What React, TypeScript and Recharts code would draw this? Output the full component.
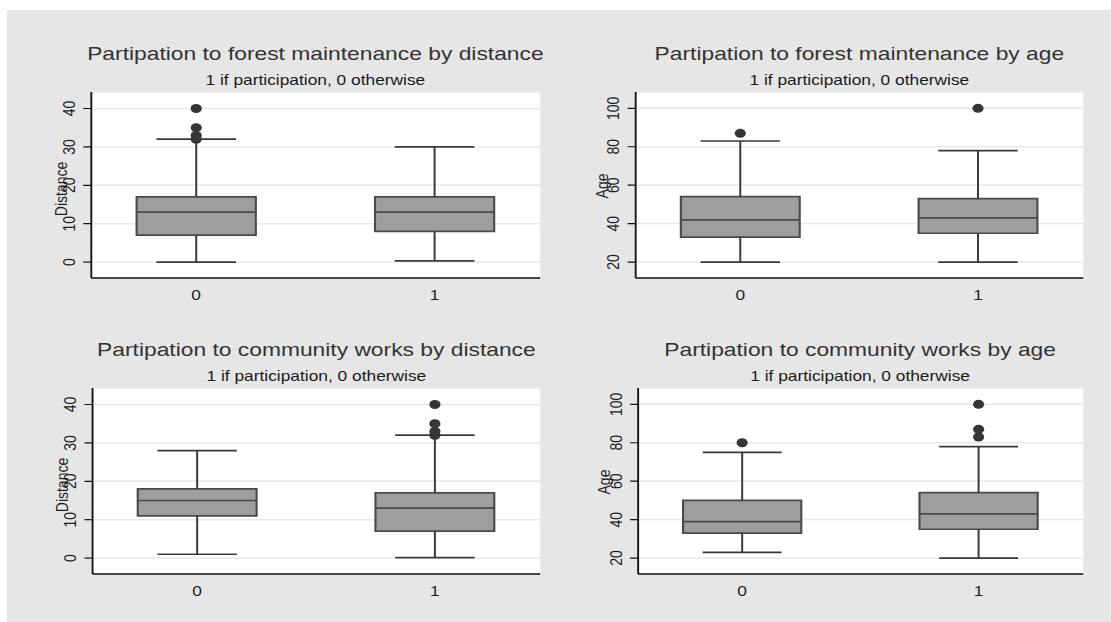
import React from 'react';
import {
  ComposedChart,
  XAxis,
  YAxis,
  CartesianGrid,
  ReferenceArea,
  ReferenceLine,
  Scatter,
} from 'recharts';

// ---------- data ----------
const groupLabels = ['0', '1'];
const groupPositions = [0, 1];
const distanceTicks = [0, 10, 20, 30, 40];
const ageTicks = [20, 40, 60, 80, 100];

// each row: [lower whisker, Q1, median, Q3, upper whisker]
const forestDistanceStats = [
  [0, 7, 13, 17, 32],
  [0.3, 8, 13, 17, 30],
];
const forestDistanceOutliers = [[40, 35, 33, 32], []];

const forestAgeStats = [
  [20, 33, 42, 54, 83],
  [20, 35, 43, 53, 78],
];
const forestAgeOutliers = [[87], [100]];

const communityDistanceStats = [
  [1, 11, 15, 18, 28],
  [0.1, 7, 13, 17, 32],
];
const communityDistanceOutliers = [[], [40, 35, 33, 32]];

const communityAgeStats = [
  [23, 33, 39, 50, 75],
  [20, 35, 43, 54, 78],
];
const communityAgeOutliers = [[80], [100, 87, 83]];

const panelTitles = [
  'Partipation to forest maintenance by distance',
  'Partipation to forest maintenance by age',
  'Partipation to community works by distance',
  'Partipation to community works by age',
];
const subtitleText = '1 if participation, 0 otherwise';
const yTitles = ['Distance', 'Age', 'Distance', 'Age'];

// ---------- layout / style ----------
const SX = 1.24; // horizontal stretch of the whole figure
const FONT = '"Liberation Sans", Arial, Helvetica, sans-serif';
const X_DOMAIN: [number, number] = [-0.44, 1.443];
const DIST_DOMAIN: [number, number] = [-4.15, 44.3];
const AGE_DOMAIN: [number, number] = [11.7, 108.5];
const BOX_HALF = 0.25;
const CAP_HALF = 0.167;
const BOX_FILL = '#9e9e9e';
const BOX_STROKE = '#4a4a4a';
const LINE_STROKE = '#3a3a3a';
const DOT_FILL = '#363636';

type Plot = { x: number; y: number; w: number; h: number };

const plots: Plot[] = [
  { x: 67.7, y: 82, w: 362, h: 186 },
  { x: 506.9, y: 82, w: 361, h: 186 },
  { x: 69, y: 378, w: 361, h: 186 },
  { x: 508.5, y: 378, w: 359, h: 186 },
];
const yTitleOffsets = [19.5, 22.5, 19.5, 22.5];
const yTitleShifts = [4, 1, 4, 1];

const renderYTick = (props: any) => {
  const { x, y, payload } = props;
  return (
    <text
      x={x}
      y={y}
      transform={`rotate(-90, ${x}, ${y})`}
      textAnchor="middle"
      fontSize={14}
      fontFamily={FONT}
      fill="#1e1e1e"
    >
      {payload.value}
    </text>
  );
};

const renderXTick = (props: any) => {
  const { x, y, payload } = props;
  const idx = groupPositions.indexOf(payload.value);
  return (
    <text
      x={x}
      y={y + 22}
      textAnchor="middle"
      fontSize={14}
      fontFamily={FONT}
      fill="#1e1e1e"
    >
      {idx >= 0 ? groupLabels[idx] : ''}
    </text>
  );
};

const dotShape = (props: any) => {
  const { cx, cy } = props;
  if (cx == null || cy == null) return <g />;
  return <circle cx={cx} cy={cy} r={4.5} fill={DOT_FILL} />;
};

function BoxPanel({
  plot,
  stats,
  outliers,
  ticks,
  domain,
}: {
  plot: Plot;
  stats: number[][];
  outliers: number[][];
  ticks: number[];
  domain: [number, number];
}) {
  const margin = { top: 10, right: 10, bottom: 5, left: 10 };
  const W = plot.w + 80;
  const H = plot.h + 45;
  const outlierData = outliers.flatMap((vals, i) =>
    vals.map((v) => ({ x: groupPositions[i], y: v }))
  );
  const elements: React.ReactNode[] = [];
  stats.forEach((s, i) => {
    const c = groupPositions[i];
    const [lo, q1, med, q3, hi] = s;
    elements.push(
      <ReferenceLine
        key={`wl${i}`}
        segment={[{ x: c, y: lo }, { x: c, y: q1 }]}
        stroke={LINE_STROKE}
        strokeWidth={1.6}
      />,
      <ReferenceLine
        key={`wh${i}`}
        segment={[{ x: c, y: q3 }, { x: c, y: hi }]}
        stroke={LINE_STROKE}
        strokeWidth={1.6}
      />,
      <ReferenceLine
        key={`cl${i}`}
        segment={[{ x: c - CAP_HALF, y: lo }, { x: c + CAP_HALF, y: lo }]}
        stroke={LINE_STROKE}
        strokeWidth={1.7}
      />,
      <ReferenceLine
        key={`ch${i}`}
        segment={[{ x: c - CAP_HALF, y: hi }, { x: c + CAP_HALF, y: hi }]}
        stroke={LINE_STROKE}
        strokeWidth={1.7}
      />,
      <ReferenceArea
        key={`b${i}`}
        x1={c - BOX_HALF}
        x2={c + BOX_HALF}
        y1={q1}
        y2={q3}
        fill={BOX_FILL}
        fillOpacity={1}
        stroke={BOX_STROKE}
        strokeWidth={1.7}
      />,
      <ReferenceLine
        key={`m${i}`}
        segment={[{ x: c - BOX_HALF, y: med }, { x: c + BOX_HALF, y: med }]}
        stroke={BOX_STROKE}
        strokeWidth={1.7}
      />
    );
  });

  return (
    <div style={{ position: 'absolute', left: plot.x - 70, top: plot.y - 10 }}>
      <ComposedChart width={W} height={H} margin={margin}>
        <CartesianGrid
          vertical={false}
          horizontal={true}
          stroke="#e8e8e8"
          strokeWidth={1.5}
          fill="#ffffff"
          fillOpacity={1}
        />
        <XAxis
          type="number"
          dataKey="x"
          domain={X_DOMAIN}
          ticks={groupPositions}
          allowDataOverflow
          height={30}
          interval={0}
          tickSize={0}
          tickMargin={0}
          tickLine={false}
          axisLine={{ stroke: '#111111', strokeWidth: 1.6 }}
          tick={renderXTick}
        />
        <YAxis
          type="number"
          dataKey="y"
          domain={domain}
          ticks={ticks}
          allowDataOverflow
          width={60}
          interval={0}
          tickSize={6.5}
          tickMargin={6.8}
          tickLine={{ stroke: '#111111', strokeWidth: 1.2 }}
          axisLine={{ stroke: '#111111', strokeWidth: 1.5 }}
          tick={renderYTick}
        />
        {elements}
        <Scatter
          data={outlierData}
          dataKey="y"
          shape={dotShape}
          isAnimationActive={false}
        />
      </ComposedChart>
    </div>
  );
}

export default function App() {
  const panelStats = [forestDistanceStats, forestAgeStats, communityDistanceStats, communityAgeStats];
  const panelOutliers = [forestDistanceOutliers, forestAgeOutliers, communityDistanceOutliers, communityAgeOutliers];
  const panelTicks = [distanceTicks, ageTicks, distanceTicks, ageTicks];
  const panelDomains = [DIST_DOMAIN, AGE_DOMAIN, DIST_DOMAIN, AGE_DOMAIN];
  const innerW = 1104 / SX;

  return (
    <div
      style={{
        position: 'absolute',
        left: 7,
        top: 10,
        width: innerW,
        height: 612,
        background: '#e6e6e6',
        transform: `scaleX(${SX})`,
        transformOrigin: '0 0',
        fontFamily: FONT,
      }}
    >
      {plots.map((p, i) => (
        <BoxPanel
          key={i}
          plot={p}
          stats={panelStats[i]}
          outliers={panelOutliers[i]}
          ticks={panelTicks[i]}
          domain={panelDomains[i]}
        />
      ))}
      <svg
        width={innerW}
        height={612}
        style={{ position: 'absolute', left: 0, top: 0, pointerEvents: 'none' }}
      >
        {plots.map((p, i) => {
          const cx = p.x + p.w / 2;
          const lx = p.x - yTitleOffsets[i];
          const ly = p.y + p.h / 2 + yTitleShifts[i];
          return (
            <g key={i}>
              <text
                x={cx}
                y={p.y - 32}
                textAnchor="middle"
                fontSize={18.4}
                fontFamily={FONT}
                fill="#333333"
              >
                {panelTitles[i]}
              </text>
              <text
                x={cx}
                y={p.y - 7}
                textAnchor="middle"
                fontSize={14}
                fontFamily={FONT}
                fill="#1a1a1a"
              >
                {subtitleText}
              </text>
              <text
                x={lx}
                y={ly}
                transform={`rotate(-90, ${lx}, ${ly})`}
                textAnchor="middle"
                fontSize={14}
                fontFamily={FONT}
                fill="#1e1e1e"
              >
                {yTitles[i]}
              </text>
            </g>
          );
        })}
      </svg>
    </div>
  );
}
